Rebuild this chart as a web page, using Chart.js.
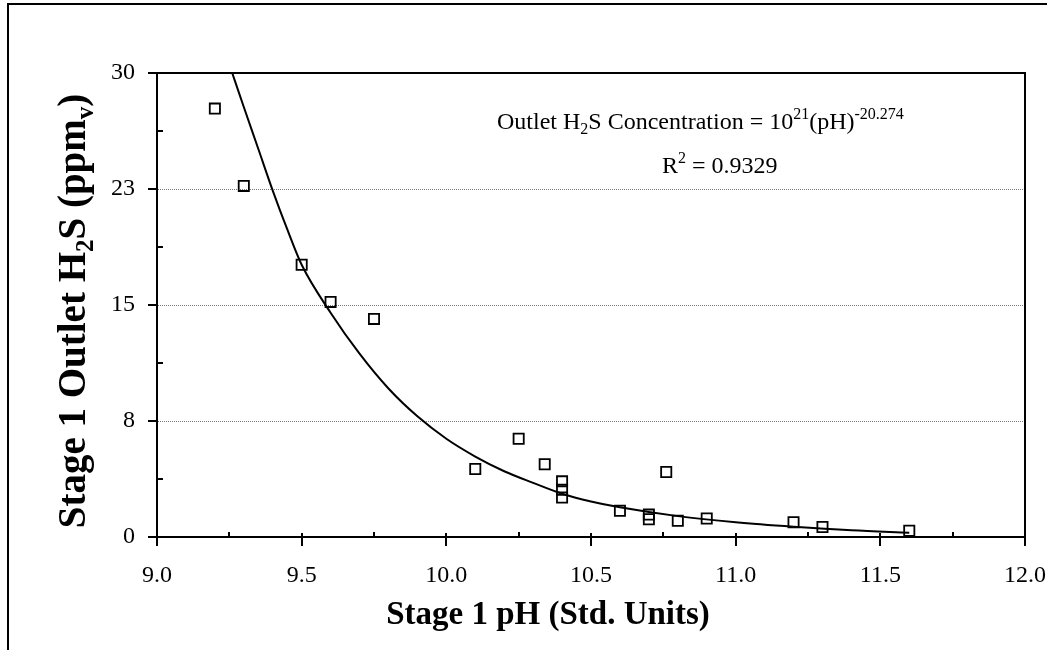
<!DOCTYPE html>
<html>
<head>
<meta charset="utf-8">
<script src="https://cdn.jsdelivr.net/npm/chart.js@4.4.1/dist/chart.umd.min.js"></script>
<style>
  html, body { margin: 0; padding: 0; background: #fff; }
  #wrap { width: 1047px; height: 650px; position: relative; }
</style>
</head>
<body>
<div id="wrap"><canvas id="chart" width="1047" height="650"></canvas></div>
<script>
// measured points: stage 1 pH vs outlet H2S (ppmv)
const phValues  = [9.2, 9.3, 9.5, 9.6, 9.75, 10.1, 10.25, 10.34, 10.4, 10.4, 10.4, 10.6, 10.7, 10.7, 10.76, 10.8, 10.9, 11.2, 11.3, 11.6];
const h2sValues = [27.7, 22.7, 17.6, 15.2, 14.1, 4.4, 6.35, 4.7, 3.6, 3.05, 2.55, 1.7, 1.45, 1.15, 4.2, 1.05, 1.2, 0.95, 0.65, 0.4];

// power trendline
const trendPh  = [9.26, 9.3, 9.35, 9.4, 9.45, 9.5, 9.6, 9.7, 9.8, 9.9, 10.0, 10.1, 10.2, 10.3, 10.4, 10.5, 10.6, 10.8, 11.0, 11.2, 11.4, 11.6];
const trendH2s = [30, 27.8, 25.1, 22.4, 19.9, 17.6, 14.5, 11.85, 9.6, 7.8, 6.35, 5.2, 4.25, 3.5, 2.8, 2.3, 1.92, 1.35, 0.95, 0.66, 0.43, 0.28];

// axis ticks
const yTicks = [0, 7.5, 15, 22.5, 30];
const yTickLabels = ['0', '8', '15', '23', '30'];
const yMinorTicks = [3.75, 11.25, 18.75, 26.25];
const xTicks = [9.0, 9.5, 10.0, 10.5, 11.0, 11.5, 12.0];
const xMinorTicks = [9.25, 9.75, 10.25, 10.75, 11.25, 11.75];

const FONT = '"Liberation Serif", "Times New Roman", serif';

function drawRich(ctx, parts, x, y, size, weight, align) {
  let total = 0;
  parts.forEach(p => {
    ctx.font = `${weight} ${p.s ? Math.round(size * 0.65) : size}px ${FONT}`;
    p.w = ctx.measureText(p.t).width;
    total += p.w;
  });
  let cx = align === 'center' ? x - total / 2 : x;
  ctx.textAlign = 'left';
  ctx.textBaseline = 'alphabetic';
  parts.forEach(p => {
    ctx.font = `${weight} ${p.s ? Math.round(size * 0.65) : size}px ${FONT}`;
    const dy = p.s === 'sub' ? size * 0.2 : p.s === 'sup' ? -size * 0.4 : 0;
    ctx.fillText(p.t, cx, y + dy);
    cx += p.w;
  });
}

const extras = {
  id: 'extras',
  afterDraw(chart) {
    const ctx = chart.ctx;
    const area = chart.chartArea;
    const xs = chart.scales.x, ys = chart.scales.y;
    ctx.save();
    ctx.strokeStyle = '#000';
    ctx.fillStyle = '#000';

    // outer frame (left + top visible)
    ctx.lineWidth = 2;
    ctx.beginPath();
    ctx.moveTo(8, 650);
    ctx.lineTo(8, 4);
    ctx.lineTo(1047, 4);
    ctx.stroke();

    // plot box
    ctx.strokeRect(area.left, area.top, area.right - area.left, area.bottom - area.top);

    // tick marks
    ctx.beginPath();
    yTicks.forEach(v => {
      const py = Math.round(ys.getPixelForValue(v));
      ctx.moveTo(area.left - 9, py);
      ctx.lineTo(area.left, py);
    });
    yMinorTicks.forEach(v => {
      const py = Math.round(ys.getPixelForValue(v));
      ctx.moveTo(area.left, py);
      ctx.lineTo(area.left + 6, py);
    });
    xTicks.forEach(v => {
      const px = Math.round(xs.getPixelForValue(v));
      ctx.moveTo(px, area.bottom - 4);
      ctx.lineTo(px, area.bottom + 9);
    });
    xMinorTicks.forEach(v => {
      const px = Math.round(xs.getPixelForValue(v));
      ctx.moveTo(px, area.bottom - 5);
      ctx.lineTo(px, area.bottom);
    });
    ctx.stroke();

    // equation
    drawRich(ctx, [
      { t: 'Outlet H' }, { t: '2', s: 'sub' }, { t: 'S Concentration = 10' },
      { t: '21', s: 'sup' }, { t: '(pH)' }, { t: '-20.274', s: 'sup' }
    ], 497, 129, 24, 'normal', 'left');
    drawRich(ctx, [{ t: 'R' }, { t: '2', s: 'sup' }, { t: ' = 0.9329' }], 662, 173, 24, 'normal', 'left');

    // axis titles
    drawRich(ctx, [{ t: 'Stage 1 pH (Std. Units)' }], 548, 624, 33, 'bold', 'center');
    ctx.translate(85, 311);
    ctx.rotate(-Math.PI / 2);
    drawRich(ctx, [
      { t: 'Stage 1 Outlet H' }, { t: '2', s: 'sub' }, { t: 'S (ppm' }, { t: 'v', s: 'sub' }, { t: ')' }
    ], 0, 0, 39, 'bold', 'center');
    ctx.restore();
  }
};

new Chart(document.getElementById('chart'), {
  type: 'scatter',
  data: {
    datasets: [
      {
        label: 'Power trend',
        data: trendPh.map((x, i) => ({ x: x, y: trendH2s[i] })),
        showLine: true,
        borderColor: '#000',
        borderWidth: 2,
        pointRadius: 0,
        cubicInterpolationMode: 'monotone',
        fill: false
      },
      {
        label: 'Outlet H2S',
        data: phValues.map((x, i) => ({ x: x, y: h2sValues[i] })),
        pointStyle: 'rect',
        pointRadius: 7.2,
        pointBorderWidth: 1.8,
        pointBorderColor: '#000',
        pointBackgroundColor: 'rgba(255,255,255,0)'
      }
    ]
  },
  options: {
    responsive: false,
    animation: false,
    layout: { padding: { left: 0, top: 73, right: 22, bottom: 0 } },
    plugins: { legend: { display: false }, tooltip: { enabled: false } },
    scales: {
      x: {
        type: 'linear',
        min: 9, max: 12,
        afterFit: s => { s.height = 113; s.paddingLeft = 0; s.paddingRight = 0; },
        afterBuildTicks: s => { s.ticks = xTicks.map(v => ({ value: v })); },
        ticks: {
          color: '#000',
          font: { family: FONT, size: 24 },
          padding: 24,
          maxRotation: 0,
          callback: v => v.toFixed(1)
        },
        grid: { display: false, drawTicks: false },
        border: { display: true, color: '#000', width: 2 }
      },
      y: {
        min: 0, max: 30,
        afterFit: s => { s.width = 157; s.paddingTop = 0; s.paddingBottom = 0; },
        afterBuildTicks: s => { s.ticks = yTicks.map(v => ({ value: v })); },
        ticks: {
          color: '#000',
          font: { family: FONT, size: 24 },
          padding: 22,
          callback: (v, i) => yTickLabels[i]
        },
        grid: {
          drawTicks: false,
          lineWidth: 1,
          color: c => (c.tick && (c.tick.value === 0 || c.tick.value === 30)) ? 'rgba(0,0,0,0)' : '#7a7a7a'
        },
        border: { display: true, color: '#000', width: 2, dash: [1, 1] }
      }
    }
  },
  plugins: [extras]
});
</script>
</body>
</html>
